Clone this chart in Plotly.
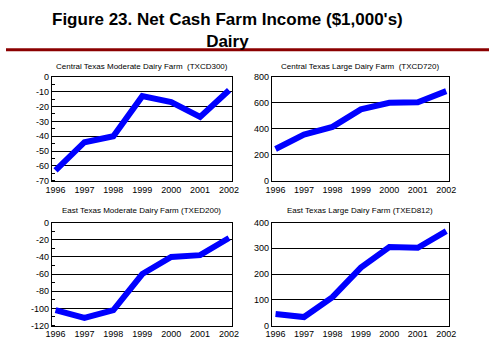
import plotly.graph_objects as go

years = [1996, 1997, 1998, 1999, 2000, 2001, 2002]
txcd300 = [-63, -44, -40, -13, -17, -27, -9]
txcd720 = [245, 355, 415, 550, 600, 605, 690]
txed200 = [-102, -111, -102, -60, -40, -38, -18]
txed812 = [45, 33, 110, 225, 305, 302, 367]

titles = ["Central Texas Moderate Dairy Farm  (TXCD300)",
          "Central Texas Large Dairy Farm  (TXCD720)",
          "East Texas Moderate Dairy Farm (TXED200)",
          "East Texas Large Dairy Farm (TXED812)"]
series = [txcd300, txcd720, txed200, txed812]
yticks = [[-70, -60, -50, -40, -30, -20, -10, 0],
          [0, 200, 400, 600, 800],
          [-120, -100, -80, -60, -40, -20, 0],
          [0, 100, 200, 300, 400]]
minor_dticks = [5, None, 10, None]

W, H = 496, 348
xdoms = [[47 / W, 232 / W], [273 / W, 455 / W]]
ydoms = [[1 - 181 / H, 1 - 74 / H], [1 - 330 / H, 1 - 224 / H]]

fig = go.Figure()
font = dict(family="Liberation Sans, Arial, sans-serif", size=9, color="black")

for i in range(4):
    r, c = divmod(i, 2)
    xa = "x" if i == 0 else f"x{i+1}"
    ya = "y" if i == 0 else f"y{i+1}"
    fig.add_trace(go.Scatter(x=years, y=series[i], mode="lines",
                             line=dict(color="#0000FF", width=6),
                             xaxis=xa, yaxis=ya, showlegend=False))
    xkey = "xaxis" if i == 0 else f"xaxis{i+1}"
    ykey = "yaxis" if i == 0 else f"yaxis{i+1}"
    fig.layout[xkey] = dict(domain=xdoms[c], anchor=ya, range=[1995.87, 2002.1],
                            tickmode="array", tickvals=years,
                            ticktext=[str(y) for y in years],
                            showgrid=False, zeroline=False, showline=True,
                            linecolor="black", linewidth=1, mirror=True,
                            ticks="", tickfont=font)
    tv = yticks[i]
    ydict = dict(domain=ydoms[r], anchor=xa, range=[min(tv), max(tv)],
                 tickmode="array", tickvals=tv, ticktext=[str(v) for v in tv],
                 showgrid=True, gridcolor="black", gridwidth=1, zeroline=False,
                 showline=True, linecolor="black", linewidth=1, mirror=True,
                 ticks="", tickfont=font)
    if minor_dticks[i]:
        ydict["minor"] = dict(tickmode="linear", tick0=0, dtick=minor_dticks[i],
                              ticks="inside", ticklen=3,
                              tickcolor="black", showgrid=False)
    fig.layout[ykey] = ydict
    xc = (xdoms[c][0] + xdoms[c][1]) / 2
    ty = 1 - (63 / H if r == 0 else 212 / H)
    fig.add_annotation(x=xc, y=ty, xref="paper", yref="paper", text=titles[i],
                       showarrow=False, xanchor="center", yanchor="middle",
                       font=dict(family="Liberation Sans, Arial, sans-serif",
                                 size=8, color="black"))

tfont = dict(family="Liberation Sans, Arial, sans-serif", size=17, color="black")
fig.add_annotation(x=227 / W, y=1 - 26 / H, xref="paper", yref="paper",
                   text="<b>Figure 23. Net Cash Farm Income ($1,000's)<br>Dairy</b>",
                   showarrow=False, xanchor="center", yanchor="middle", font=tfont)
fig.add_shape(type="line", xref="paper", yref="paper", x0=0, x1=1,
              y0=1 - 46 / H, y1=1 - 46 / H, line=dict(color="#8B0000", width=3))

fig.update_layout(width=W, height=H, margin=dict(l=0, r=0, t=0, b=0),
                  paper_bgcolor="white", plot_bgcolor="white")
fig.write_html("out.html")
